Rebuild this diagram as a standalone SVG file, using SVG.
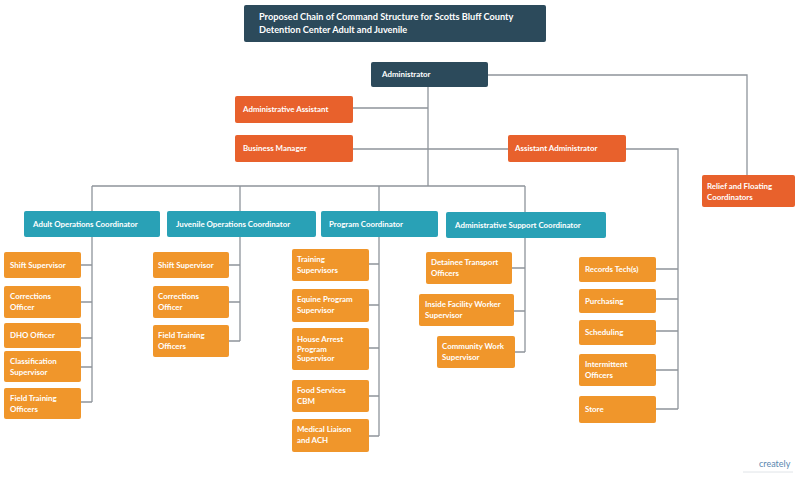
<svg xmlns="http://www.w3.org/2000/svg" width="800" height="477" viewBox="0 0 800 477">
<style>
.dk{fill:#2c4a5b}
.rd{fill:#e8612c}
.tl{fill:#29a1b6}
.or{fill:#f0962b}
text{font-family:Lato,"Liberation Sans",sans-serif;font-weight:bold;fill:#ffffff;font-size:7.9px}
.tt{font-size:9.2px}
.c{fill:none;stroke:#8e949b;stroke-width:1.3}
</style>
<rect width="800" height="477" fill="#ffffff"/>
<g id="connectors">
<path class="c" d="M428 87V186M353 108H428M353 149H508M488 75H747V175M626 149H678V409"/>
<path class="c" d="M92 186H525M92 186V402M240 186V341M379 186V436M525 186V352"/>
<path class="c" d="M81 265H92M81 302H92M81 338H92M81 367H92M81 402H92"/>
<path class="c" d="M229 265H240M229 302H240M229 341H240"/>
<path class="c" d="M369 264H379M369 305H379M369 348H379M369 396H379M369 436H379"/>
<path class="c" d="M512 268H525M514 311H525M515 352H525"/>
<path class="c" d="M656 269H678M656 299H678M656 331H678M656 370H678M656 409H678"/>
</g>
<g id="title"><rect class="dk" x="244" y="5" width="302" height="37" rx="2"/><text class="tt" x="259" y="20">Proposed Chain of Command Structure for Scotts Bluff County</text><text class="tt" x="259" y="33">Detention Center Adult and Juvenile</text></g>
<g id="administrator"><rect class="dk" x="371" y="62" width="117" height="25" rx="2"/><text x="382" y="77">Administrator</text></g>
<g id="admin-assistant"><rect class="rd" x="235" y="96" width="118" height="27" rx="2"/><text x="243" y="112">Administrative Assistant</text></g>
<g id="business-manager"><rect class="rd" x="235" y="135" width="118" height="27" rx="2"/><text x="243" y="151">Business Manager</text></g>
<g id="assistant-admin"><rect class="rd" x="508" y="135" width="118" height="27" rx="2"/><text x="515" y="151">Assistant Administrator</text></g>
<g id="relief"><rect class="rd" x="702" y="175" width="93" height="32" rx="2"/><text x="707" y="189">Relief and Floating</text><text x="707" y="199.5">Coordinators</text></g>
<g id="adult-ops"><rect class="tl" x="24" y="211" width="136" height="26" rx="2"/><text x="33" y="227">Adult Operations Coordinator</text></g>
<g id="juvenile-ops"><rect class="tl" x="167" y="211" width="149" height="26" rx="2"/><text x="176" y="227">Juvenile Operations Coordinator</text></g>
<g id="program"><rect class="tl" x="321" y="211" width="117" height="26" rx="2"/><text x="329" y="227">Program Coordinator</text></g>
<g id="admin-support"><rect class="tl" x="446" y="212" width="160" height="26" rx="2"/><text x="455" y="228">Administrative Support Coordinator</text></g>
<g id="a-shift"><rect class="or" x="4" y="252" width="77" height="26" rx="2"/><text x="10" y="268">Shift Supervisor</text></g>
<g id="a-corr"><rect class="or" x="4" y="286" width="77" height="32" rx="2"/><text x="10" y="299">Corrections</text><text x="10" y="309.5">Officer</text></g>
<g id="a-dho"><rect class="or" x="4" y="323" width="77" height="25" rx="2"/><text x="10" y="338">DHO Officer</text></g>
<g id="a-class"><rect class="or" x="4" y="351" width="77" height="31" rx="2"/><text x="10" y="364">Classification</text><text x="10" y="374.5">Supervisor</text></g>
<g id="a-fto"><rect class="or" x="4" y="388" width="77" height="31" rx="2"/><text x="10" y="401">Field Training</text><text x="10" y="411.5">Officers</text></g>
<g id="j-shift"><rect class="or" x="153" y="252" width="76" height="26" rx="2"/><text x="158" y="268">Shift Supervisor</text></g>
<g id="j-corr"><rect class="or" x="153" y="286" width="76" height="32" rx="2"/><text x="158" y="299">Corrections</text><text x="158" y="309.5">Officer</text></g>
<g id="j-fto"><rect class="or" x="153" y="325" width="76" height="32" rx="2"/><text x="158" y="338">Field Training</text><text x="158" y="348.5">Officers</text></g>
<g id="p-training"><rect class="or" x="292" y="249" width="77" height="32" rx="2"/><text x="297" y="262">Training</text><text x="297" y="272.5">Supervisors</text></g>
<g id="p-equine"><rect class="or" x="292" y="289" width="77" height="33" rx="2"/><text x="297" y="302">Equine Program</text><text x="297" y="312.5">Supervisor</text></g>
<g id="p-house"><rect class="or" x="292" y="328" width="77" height="42" rx="2"/><text x="297" y="342">House Arrest</text><text x="297" y="351.5">Program</text><text x="297" y="361">Supervisor</text></g>
<g id="p-food"><rect class="or" x="292" y="380" width="77" height="32" rx="2"/><text x="297" y="393">Food Services</text><text x="297" y="403.5">CBM</text></g>
<g id="p-medical"><rect class="or" x="292" y="419" width="77" height="33" rx="2"/><text x="297" y="432">Medical Liaison</text><text x="297" y="442.5">and ACH</text></g>
<g id="s-detainee"><rect class="or" x="426" y="252" width="86" height="32" rx="2"/><text x="431" y="265">Detainee Transport</text><text x="431" y="275.5">Officers</text></g>
<g id="s-inside"><rect class="or" x="419" y="294" width="95" height="32" rx="2"/><text x="425" y="307">Inside Facility Worker</text><text x="425" y="317.5">Supervisor</text></g>
<g id="s-community"><rect class="or" x="437" y="336" width="78" height="32" rx="2"/><text x="442" y="349">Community Work</text><text x="442" y="359.5">Supervisor</text></g>
<g id="r-records"><rect class="or" x="579" y="257" width="77" height="25" rx="2"/><text x="585" y="272">Records Tech(s)</text></g>
<g id="r-purchasing"><rect class="or" x="579" y="289" width="77" height="24" rx="2"/><text x="585" y="304">Purchasing</text></g>
<g id="r-scheduling"><rect class="or" x="579" y="320" width="77" height="25" rx="2"/><text x="585" y="335">Scheduling</text></g>
<g id="r-intermittent"><rect class="or" x="579" y="354" width="77" height="32" rx="2"/><text x="585" y="367">Intermittent</text><text x="585" y="377.5">Officers</text></g>
<g id="r-store"><rect class="or" x="579" y="396" width="77" height="27" rx="2"/><text x="585" y="412">Store</text></g>
<g id="logo"><text x="759" y="467" style="fill:#5a87b0;font-size:9px;font-weight:normal">creately</text><line x1="743" y1="472" x2="793" y2="472" stroke="#d8dde2" stroke-width="0.8"/></g>
</svg>
